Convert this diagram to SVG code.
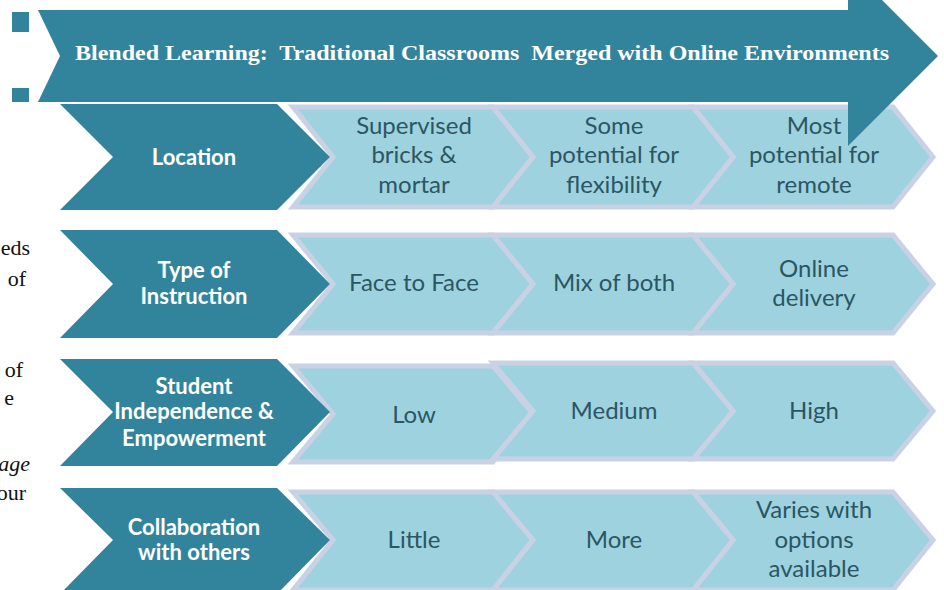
<svg xmlns="http://www.w3.org/2000/svg" width="944" height="590" viewBox="0 0 944 590">
<style>
.dark{fill:#32849c;}
.light{fill:#9ed2df;stroke:#c9d2e5;stroke-width:5;stroke-linejoin:miter;}
.lt{font-family:Lato,"Open Sans",sans-serif;font-size:24px;fill:#2b5663;text-anchor:middle;}
.dt{font-family:Lato,"Open Sans",sans-serif;font-size:22px;font-weight:bold;fill:#ffffff;text-anchor:middle;}
.bg{font-family:"Liberation Serif",serif;font-size:22px;fill:#111111;text-anchor:end;}
.title{font-family:"Liberation Serif",serif;font-size:21.5px;font-weight:bold;fill:#ffffff;}
</style>
<rect width="944" height="590" fill="#ffffff"/>

<g id="paragraph-fragments">
<text class="bg" x="30" y="255">eds</text>
<text class="bg" x="26" y="286">of</text>
<text class="bg" x="23" y="377">of</text>
<text class="bg" x="14" y="405">e</text>
<text class="bg" x="30" y="471" font-style="italic">age</text>
<text class="bg" x="26" y="500">our</text>
</g>

<g id="row1">
<g id="r1c1"><polygon class="light" points="293,107 493,107 533,157 493,207 293,207 333,157"/><text class="lt"><tspan x="414" y="134">Supervised</tspan><tspan x="414" y="163">bricks &amp;</tspan><tspan x="414" y="193">mortar</tspan></text></g>
<g id="r1c3"><polygon class="light" points="693,107 893,107 933,157 893,207 693,207 733,157"/><text class="lt"><tspan x="814" y="134">Most</tspan><tspan x="814" y="163">potential for</tspan><tspan x="814" y="193">remote</tspan></text></g>
<g id="r1c2"><polygon class="light" points="493,107 693,107 733,157 693,207 493,207 533,157"/><text class="lt"><tspan x="614" y="134">Some</tspan><tspan x="614" y="163">potential for</tspan><tspan x="614" y="193">flexibility</tspan></text></g>
<g id="location"><polygon class="dark" points="60,104 277,104 330,157 277,210 60,210 113,157"/><text class="dt" x="194" y="165">Location</text></g>
</g>

<g id="row2">
<g id="r2c1"><polygon class="light" points="293,235 493,235 533,284 493,333 293,333 333,284"/><text class="lt" x="414" y="291">Face to Face</text></g>
<g id="r2c3"><polygon class="light" points="693,235 893,235 933,284 893,333 693,333 733,284"/><text class="lt"><tspan x="814" y="277">Online</tspan><tspan x="814" y="306">delivery</tspan></text></g>
<g id="r2c2"><polygon class="light" points="493,235 693,235 733,284 693,333 493,333 533,284"/><text class="lt" x="614" y="291">Mix of both</text></g>
<g id="type-of-instruction"><polygon class="dark" points="60,230 277,230 330,284 277,338 60,338 113,284"/><text class="dt"><tspan x="194" y="278">Type of</tspan><tspan x="194" y="304">Instruction</tspan></text></g>
</g>

<g id="row3">
<g id="r3c1"><polygon class="light" points="293,366 493,366 533,414 493,462 293,462 333,414"/><text class="lt" x="414" y="423">Low</text></g>
<g id="r3c3"><polygon class="light" points="693,363 893,363 933,411 893,459 693,459 733,411"/><text class="lt" x="814" y="419">High</text></g>
<g id="r3c2"><polygon class="light" points="493,363 693,363 733,411 693,459 493,459 533,411"/><text class="lt" x="614" y="419">Medium</text></g>
<g id="student-independence"><polygon class="dark" points="60,359 277,359 330,412 277,466 60,466 113,412"/><text class="dt"><tspan x="194" y="394">Student</tspan><tspan x="194" y="419">Independence &amp;</tspan><tspan x="194" y="446">Empowerment</tspan></text></g>
</g>

<g id="row4">
<g id="r4c1"><polygon class="light" points="293,492 493,492 533,540 493,590 293,590 333,540"/><text class="lt" x="414" y="548">Little</text></g>
<g id="r4c3"><polygon class="light" points="693,492 893,492 933,540 893,590 693,590 733,540"/><text class="lt"><tspan x="814" y="518">Varies with</tspan><tspan x="814" y="548">options</tspan><tspan x="814" y="577">available</tspan></text></g>
<g id="r4c2"><polygon class="light" points="493,492 693,492 733,540 693,590 493,590 533,540"/><text class="lt" x="614" y="548">More</text></g>
<g id="collaboration"><polygon class="dark" points="60,488 277,488 330,540 277,594 60,594 113,540"/><text class="dt"><tspan x="194" y="535">Collaboration</tspan><tspan x="194" y="560">with others</tspan></text></g>
</g>

<g id="banner">
<rect class="dark" x="12" y="12" width="17" height="20"/>
<rect class="dark" x="12" y="88" width="17" height="14"/>
<polygon class="dark" points="38,10 848,10 848,-34 938,56 848,146 848,102 38,102 60,56"/>
<text class="title" x="75" y="60" xml:space="preserve" textLength="814" lengthAdjust="spacingAndGlyphs">Blended Learning:  Traditional Classrooms  Merged with Online Environments</text>
</g>
</svg>
